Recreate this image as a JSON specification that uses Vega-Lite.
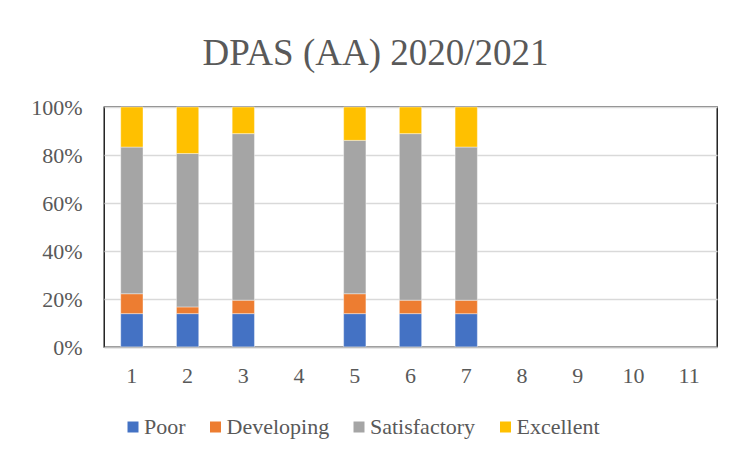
{
  "$schema": "https://vega.github.io/schema/vega-lite/v6.json",
  "width": 613,
  "height": 240,
  "autosize": {"type": "none"},
  "padding": {"left": 104, "top": 107, "right": 17, "bottom": 109},
  "background": "white",
  "title": {
    "text": "DPAS (AA) 2020/2021",
    "font": "Liberation Serif",
    "fontSize": 37,
    "fontWeight": "normal",
    "color": "#595959",
    "anchor": "middle",
    "dx": -35,
    "offset": 23
  },
  "config": {
    "view": {"stroke": "#000000", "strokeWidth": 1.3},
    "font": "Liberation Serif"
  },
  "data": {
    "values": [
      {"cat": "1", "level": "Poor", "seq": 1, "pct": 13.9},
      {"cat": "1", "level": "Developing", "seq": 2, "pct": 8.3},
      {"cat": "1", "level": "Satisfactory", "seq": 3, "pct": 61.1},
      {"cat": "1", "level": "Excellent", "seq": 4, "pct": 16.7},
      {"cat": "2", "level": "Poor", "seq": 1, "pct": 13.9},
      {"cat": "2", "level": "Developing", "seq": 2, "pct": 2.8},
      {"cat": "2", "level": "Satisfactory", "seq": 3, "pct": 63.9},
      {"cat": "2", "level": "Excellent", "seq": 4, "pct": 19.4},
      {"cat": "3", "level": "Poor", "seq": 1, "pct": 13.9},
      {"cat": "3", "level": "Developing", "seq": 2, "pct": 5.6},
      {"cat": "3", "level": "Satisfactory", "seq": 3, "pct": 69.4},
      {"cat": "3", "level": "Excellent", "seq": 4, "pct": 11.1},
      {"cat": "5", "level": "Poor", "seq": 1, "pct": 13.9},
      {"cat": "5", "level": "Developing", "seq": 2, "pct": 8.3},
      {"cat": "5", "level": "Satisfactory", "seq": 3, "pct": 63.9},
      {"cat": "5", "level": "Excellent", "seq": 4, "pct": 13.9},
      {"cat": "6", "level": "Poor", "seq": 1, "pct": 13.9},
      {"cat": "6", "level": "Developing", "seq": 2, "pct": 5.6},
      {"cat": "6", "level": "Satisfactory", "seq": 3, "pct": 69.4},
      {"cat": "6", "level": "Excellent", "seq": 4, "pct": 11.1},
      {"cat": "7", "level": "Poor", "seq": 1, "pct": 13.9},
      {"cat": "7", "level": "Developing", "seq": 2, "pct": 5.6},
      {"cat": "7", "level": "Satisfactory", "seq": 3, "pct": 63.9},
      {"cat": "7", "level": "Excellent", "seq": 4, "pct": 16.7}
    ]
  },
  "mark": {"type": "bar", "stroke": "#ffffff", "strokeWidth": 0.8, "strokeOpacity": 0.5},
  "encoding": {
    "x": {
      "field": "cat",
      "type": "ordinal",
      "scale": {"domain": ["1","2","3","4","5","6","7","8","9","10","11"], "paddingInner": 0.6, "paddingOuter": 0.3},
      "axis": {
        "title": null,
        "labelAngle": 0,
        "labelFont": "Liberation Serif",
        "labelFontSize": 22,
        "labelColor": "#595959",
        "ticks": false,
        "tickSize": 0,
        "labelPadding": 18,
        "domainColor": "#bfbfbf",
        "domainWidth": 1.5,
        "zindex": 1,
        "grid": false
      }
    },
    "y": {
      "field": "pct",
      "type": "quantitative",
      "stack": "normalize",
      "scale": {"domain": [0, 1]},
      "axis": {
        "title": null,
        "values": [0, 0.2, 0.4, 0.6, 0.8, 1],
        "format": ".0%",
        "labelFont": "Liberation Serif",
        "labelFontSize": 22,
        "labelColor": "#595959",
        "ticks": false,
        "tickSize": 0,
        "domain": false,
        "labelPadding": 22,
        "gridColor": "#d9d9d9",
        "gridWidth": 1.3
      }
    },
    "color": {
      "field": "level",
      "type": "nominal",
      "scale": {
        "domain": ["Poor", "Developing", "Satisfactory", "Excellent"],
        "range": ["#4472C4", "#ED7D31", "#A5A5A5", "#FFC000"]
      },
      "legend": {
        "title": null,
        "orient": "none",
        "direction": "horizontal",
        "legendX": 18,
        "legendY": 309,
        "symbolType": "square",
        "symbolSize": 121,
        "symbolStrokeWidth": 0,
        "symbolOpacity": 1,
        "labelFont": "Liberation Serif",
        "labelFontSize": 22,
        "labelColor": "#595959",
        "labelOffset": 0,
        "columnPadding": 18.5,
        "labelLimit": 300
      }
    },
    "order": {"field": "seq", "type": "quantitative"}
  }
}
